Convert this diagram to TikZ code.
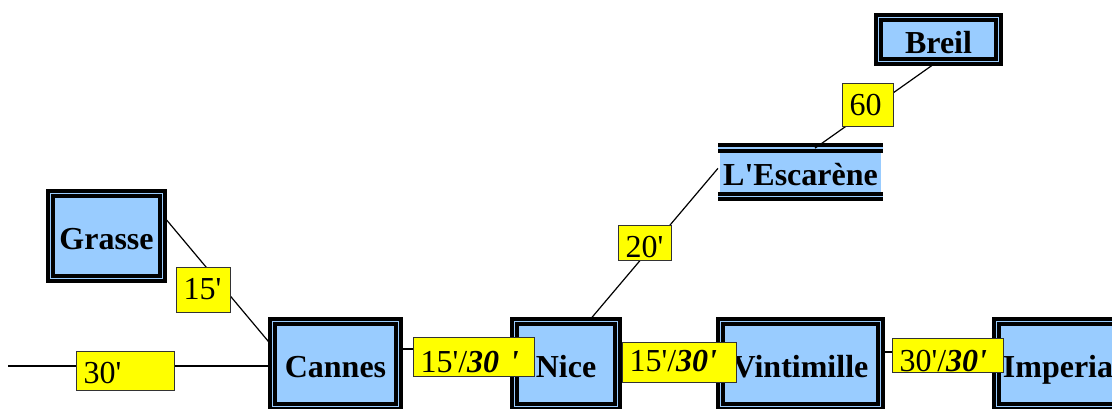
\documentclass[tikz,border=0pt]{standalone}
\usepackage{fontspec}
\setmainfont{Liberation Serif}[Ligatures=TeXOff]
\usetikzlibrary{calc}
\definecolor{stnblue}{RGB}{153,204,255}
\definecolor{lblyellow}{RGB}{255,255,0}
\tikzset{
  stn/.style={rectangle, draw=black, line width=4pt, double=stnblue,
              double distance=1.4pt, fill=stnblue, inner sep=0pt,
              text height=27pt, text depth=0pt,
              font=\fontsize{32}{36}\selectfont\bfseries},
  stnbar/.style={draw=black, line width=4pt, double=stnblue, double distance=1.4pt},
  lbl/.style={rectangle, draw=black!80, line width=1pt, fill=lblyellow,
              inner xsep=7.5pt, inner ysep=0pt, align=left, text depth=0pt,
              font=\fontsize{32}{36}\selectfont},
  track/.style={line width=1.2pt, black},
}
\newcommand{\bi}[1]{\textbf{\textit{#1}}}
\begin{document}
\begin{tikzpicture}[x=1pt, y=-1pt]
  \useasboundingbox (0,0) rectangle (1112,408);
  \clip (0,0) rectangle (1112,408);
  % stations
  \node[stn, minimum width=111.6pt, minimum height=84.6pt] (grasse) at (106.5,236) {Grasse};
  \node[stn, minimum width=125.6pt, minimum height=84.6pt] (cannes) at (335.5,364) {Cannes};
  \node[stn, minimum width=102.6pt, minimum height=84.6pt] (nice)   at (566,364)   {Nice};
  \node[stn, minimum width=159.6pt, minimum height=84.6pt] (vinti)  at (800.5,364) {Vintimille};
  \node[stn, minimum width=122.6pt, minimum height=84.6pt] (imper)  at (1058,364)  {Imperia};
  \node[stn, minimum width=119.6pt, minimum height=43.6pt] (breil)  at (938.5,39.5) {Breil};
  \node[stn, draw=none, minimum width=161pt, minimum height=44.3pt] (esc) at (800.5,172.3) {L'Escarène};
  \draw[stnbar] (esc.north west) -- (esc.north east);
  \draw[stnbar] (esc.south west) -- (esc.south east);
  % tracks
  \coordinate (wend) at (8,366);
  \draw[track] (wend) -- (wend -| cannes.west);
  \draw[track] (grasse.18) -- (cannes.163);
  \draw[track] ([yshift=15pt]cannes.east) -- ([yshift=15pt]nice.west);
  \draw[track] ([yshift=15pt]nice.east) -- ([yshift=15pt]vinti.west);
  \draw[track] ([yshift=12pt]vinti.east) -- ([yshift=12pt]imper.west);
  \draw[track] ([xshift=24pt]nice.north) -- ([yshift=4pt]esc.west);
  \draw[track] ([xshift=14.5pt]esc.north) -- ([xshift=-3.5pt]breil.south);
  % travel times
  \node[lbl, text width=83pt, minimum height=39pt, text height=25pt] (t30)   at (125,370.5)   {30'};
  \node[lbl, text width=39pt, minimum height=45pt, text height=19pt] (t15)   at (203,289.5)   {15'};
  \node[lbl, text width=106pt, minimum height=39pt, text height=31pt] (tcn)  at (473.5,356.5) {15'/\bi{30~'}};
  \node[lbl, text width=99pt, minimum height=40pt, text height=18pt] (tnv)   at (679,362)     {15'/\bi{30'}};
  \node[lbl, text width=96pt, minimum height=34pt, text height=32pt] (tvi)   at (947.5,355)   {30'/\bi{30'}};
  \node[lbl, text width=38pt, minimum height=35pt, text height=29pt] (t20)   at (644.5,242.5) {20'};
  \node[lbl, text width=36pt, minimum height=43pt, text height=21pt] (t60)   at (867.5,104.5) {60};
\end{tikzpicture}
\end{document}
